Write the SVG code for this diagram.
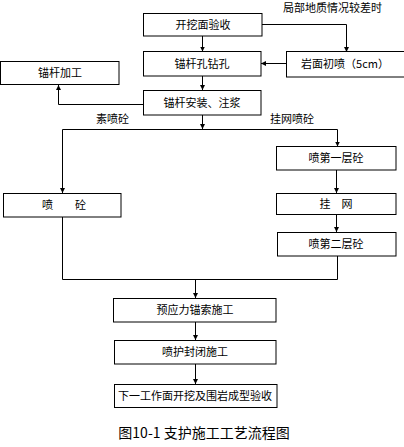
<svg xmlns="http://www.w3.org/2000/svg" width="404" height="447" viewBox="0 0 404 447">
<defs>
<marker id="ah" markerWidth="6" markerHeight="6" refX="5" refY="3" orient="auto" markerUnits="userSpaceOnUse">
<path d="M0,0.5 L5,3 L0,5.5 Z" fill="#000"/>
</marker>
<style>
rect{fill:#fff;stroke:#000;stroke-width:1}
text{font-family:"Noto Sans CJK SC","Liberation Sans",sans-serif;font-size:11px;fill:#000;text-anchor:middle}
.c path,.c polyline,.c line{fill:none;stroke:#000;stroke-width:1}
.a{marker-end:url(#ah)}
.lbl{text-anchor:start}
.cap{font-size:14px}
</style>
</defs>
<rect x="0" y="0" width="404" height="447" style="stroke:none"/>
<g id="connectors" class="c">
<polyline points="262,24.5 346.5,24.5 346.5,52" class="a"/>
<line x1="202.5" y1="36" x2="202.5" y2="51.5" class="a"/>
<line x1="286" y1="63.5" x2="261" y2="63.5" class="a"/>
<line x1="202.5" y1="76" x2="202.5" y2="90" class="a"/>
<polyline points="144,104.5 58.5,104.5 58.5,85" class="a"/>
<line x1="202.5" y1="115" x2="202.5" y2="129" class="a"/>
<polyline points="62.5,129.5 337.5,129.5"/>
<line x1="62.5" y1="129.5" x2="62.5" y2="193" class="a"/>
<line x1="337.5" y1="129.5" x2="337.5" y2="146.5" class="a"/>
<line x1="336.5" y1="170" x2="336.5" y2="193" class="a"/>
<line x1="336.5" y1="214" x2="336.5" y2="232" class="a"/>
<polyline points="62.5,217 62.5,279.5 337.5,279.5 337.5,256"/>
<line x1="195.5" y1="279.5" x2="195.5" y2="298" class="a"/>
<line x1="195.5" y1="322" x2="195.5" y2="340" class="a"/>
<line x1="195.5" y1="364" x2="195.5" y2="384" class="a"/>
</g>
<text class="lbl" x="283" y="12">局部地质情况较差时</text>
<text class="lbl" x="96" y="123">素喷砼</text>
<text class="lbl" x="270" y="123">挂网喷砼</text>
<g id="n1"><rect x="143.5" y="13.5" width="118.5" height="22.5"/><text x="203" y="29">开挖面验收</text></g>
<g id="n2"><rect x="286.5" y="51.5" width="120" height="25.5"/><text x="345" y="68">岩面初喷（5cm）</text></g>
<g id="n3"><rect x="143.5" y="51.5" width="117.5" height="24.5"/><text x="202" y="68">锚杆孔钻孔</text></g>
<g id="n4"><rect x="0.5" y="61.5" width="118.5" height="23"/><text x="60" y="77">锚杆加工</text></g>
<g id="n5"><rect x="143.5" y="90.5" width="117.5" height="24.5"/><text x="202" y="107">锚杆安装、注浆</text></g>
<g id="n6"><rect x="3.5" y="193.5" width="117.5" height="23.5"/><text x="64" y="209">喷　　砼</text></g>
<g id="n7"><rect x="276.5" y="146.5" width="119.5" height="23.5"/><text x="336" y="162">喷第一层砼</text></g>
<g id="n8"><rect x="276.5" y="193.5" width="119.5" height="21"/><text x="336" y="208">挂　网</text></g>
<g id="n9"><rect x="277.5" y="232.5" width="118.5" height="23.5"/><text x="336" y="248">喷第二层砼</text></g>
<g id="n10"><rect x="113.5" y="298.5" width="162.5" height="23.5"/><text x="195" y="314">预应力锚索施工</text></g>
<g id="n11"><rect x="114.5" y="340.5" width="161.5" height="23.5"/><text x="195" y="356">喷护封闭施工</text></g>
<g id="n12"><rect x="114.5" y="384.5" width="162.5" height="23"/><text x="195" y="400">下一工作面开挖及围岩成型验收</text></g>
<text class="cap" x="204" y="438">图10-1 支护施工工艺流程图</text>
</svg>
